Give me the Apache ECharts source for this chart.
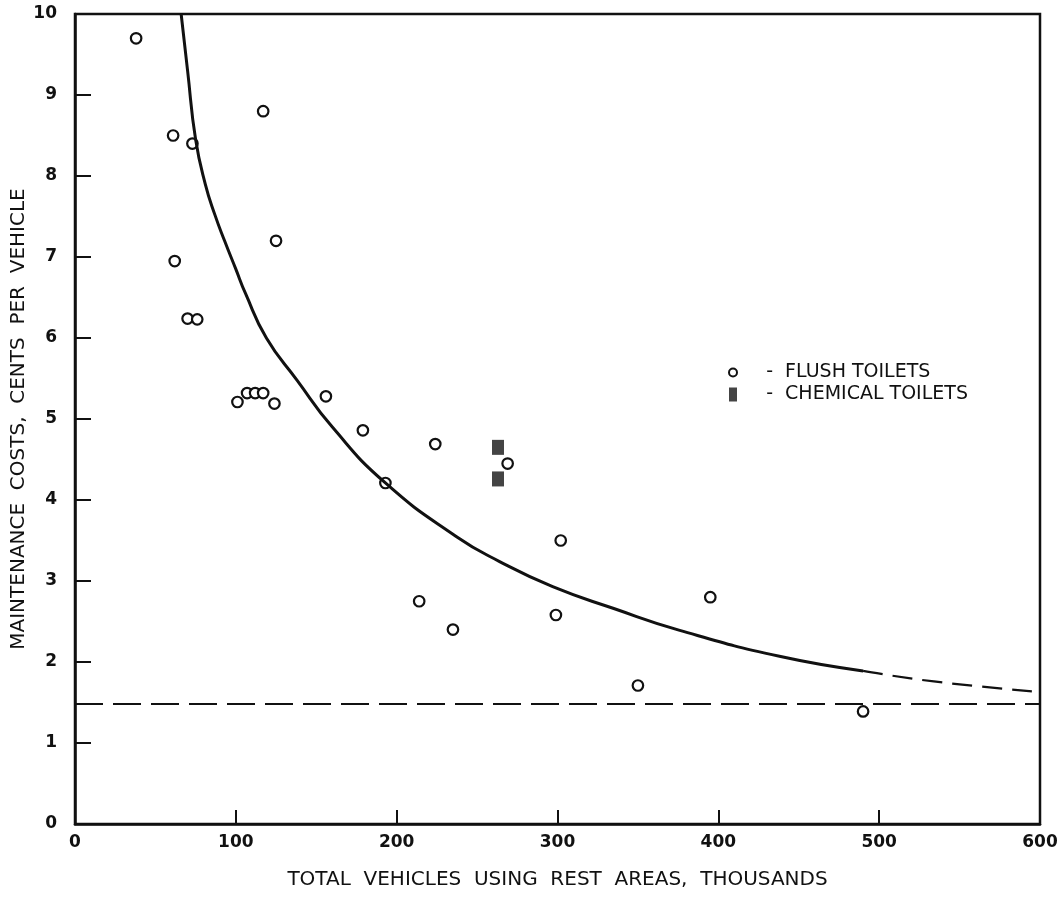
<!DOCTYPE html>
<html>
<head>
<meta charset="utf-8">
<script src="https://cdn.jsdelivr.net/npm/echarts@6/dist/echarts.min.js"></script>
<style>
  html, body { margin: 0; padding: 0; background: #fff; }
  #chart { width: 1064px; height: 898px; }
</style>
</head>
<body>
<div id="chart"></div>
<script>
// flush toilets (thousands of vehicles, cents per vehicle)
const flushVehicles = [38, 61, 73, 117, 62, 125, 70, 76, 101, 107, 112, 117, 124, 156, 179, 224, 193, 269, 302, 214, 235, 299, 395, 350, 490];
const flushCost = [9.7, 8.5, 8.4, 8.8, 6.95, 7.2, 6.24, 6.23, 5.21, 5.32, 5.32, 5.32, 5.19, 5.28, 4.86, 4.69, 4.21, 4.45, 3.5, 2.75, 2.4, 2.58, 2.8, 1.71, 1.39];

// chemical toilets
const chemicalVehicles = [263, 263];
const chemicalCost = [4.65, 4.26];

// fitted curve, solid part and dashed extension
const curveVehicles = [66, 70, 75, 81, 87, 93, 100, 106, 119, 138, 160, 193, 237, 264, 297, 335, 376, 438, 490];
const curveCost = [10, 9.3, 8.45, 7.9, 7.52, 7.2, 6.85, 6.55, 6.0, 5.48, 4.9, 4.21, 3.55, 3.24, 2.93, 2.66, 2.39, 2.07, 1.89];
const extVehicles = [490, 534, 600];
const extCost = [1.89, 1.76, 1.63];

// horizontal dashed level
const levelVehicles = [0, 600];
const levelCost = [1.48, 1.48];

const zip = (xs, ys) => xs.map((x, i) => [x, ys[i]]);

const initChart = () => {
  const chartDom = document.querySelector('#chart');
  const myChart = echarts.init(chartDom);
  const font = 'DejaVu Sans';
  let option;
  option = {
    backgroundColor: '#fff',
    animation: false,
    grid: {
      left: 75,
      right: 24,
      top: 14,
      bottom: 74,
      containLabel: false,
      outerBoundsMode: 'none',
      show: true,
      borderColor: '#111',
      borderWidth: 2.5
    },
    legend: {
      orient: 'vertical',
      left: 723,
      top: 358,
      itemWidth: 8,
      itemHeight: 14,
      itemGap: 3,
      selectedMode: false,
      textStyle: {fontFamily: font, fontSize: 19, color: '#111'},
      formatter: (name) => '    -  ' + name,
      data: [
        {name: 'FLUSH TOILETS', icon: 'circle', itemStyle: {color: '#fff', borderColor: '#111', borderWidth: 2}},
        {name: 'CHEMICAL TOILETS', icon: 'rect', itemStyle: {color: '#444', borderWidth: 0}}
      ]
    },
    xAxis: {
      type: 'value',
      min: 0,
      max: 600,
      interval: 100,
      name: 'TOTAL  VEHICLES  USING  REST  AREAS,  THOUSANDS',
      nameLocation: 'middle',
      nameGap: 46,
      nameMoveOverlap: false,
      nameTextStyle: {fontFamily: font, fontSize: 20, color: '#111'},
      axisLine: {lineStyle: {color: '#111', width: 2.5}},
      axisTick: {inside: true, length: 14, lineStyle: {color: '#111', width: 2}},
      axisLabel: {fontFamily: font, fontSize: 17, fontWeight: 'bold', color: '#111', margin: 10},
      splitLine: {show: false}
    },
    yAxis: {
      type: 'value',
      min: 0,
      max: 10,
      interval: 1,
      name: 'MAINTENANCE  COSTS,  CENTS  PER  VEHICLE',
      nameLocation: 'middle',
      nameGap: 46,
      nameMoveOverlap: false,
      nameTextStyle: {fontFamily: font, fontSize: 20, color: '#111'},
      axisLine: {lineStyle: {color: '#111', width: 2.5}},
      axisTick: {inside: true, length: 16, lineStyle: {color: '#111', width: 2}},
      axisLabel: {fontFamily: font, fontSize: 17, fontWeight: 'bold', color: '#111', margin: 18},
      splitLine: {show: false}
    },
    series: [
      {
        name: 'curve',
        type: 'line',
        data: zip(curveVehicles, curveCost),
        smooth: 0.5,
        showSymbol: false,
        lineStyle: {color: '#111', width: 3}
      },
      {
        name: 'curve extension',
        type: 'line',
        data: zip(extVehicles, extCost),
        smooth: 0.5,
        showSymbol: false,
        lineStyle: {color: '#111', width: 2.2, type: [20, 10]}
      },
      {
        name: 'level',
        type: 'line',
        data: zip(levelVehicles, levelCost),
        showSymbol: false,
        lineStyle: {color: '#111', width: 2, type: [28, 10]}
      },
      {
        name: 'FLUSH TOILETS',
        type: 'scatter',
        data: zip(flushVehicles, flushCost),
        symbol: 'circle',
        symbolSize: 10.5,
        itemStyle: {color: '#fff', borderColor: '#111', borderWidth: 2.2, opacity: 1}
      },
      {
        name: 'CHEMICAL TOILETS',
        type: 'scatter',
        data: zip(chemicalVehicles, chemicalCost),
        symbol: 'rect',
        symbolSize: [12, 15],
        itemStyle: {color: '#444', opacity: 1}
      }
    ]
  };
  option && myChart.setOption(option);
}

initChart();
</script>
</body>
</html>
